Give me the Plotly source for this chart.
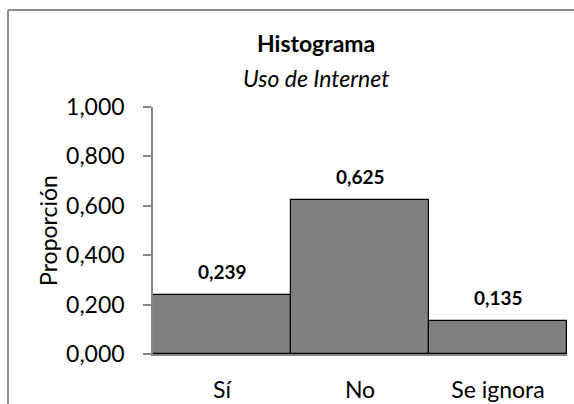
import plotly.graph_objects as go

# Proporción de respuestas por categoría
categorias = ["Sí", "No", "Se ignora"]
proporciones = [0.239, 0.625, 0.135]
etiquetas = ["0,239", "0,625", "0,135"]
ticks_y = [0.0, 0.2, 0.4, 0.6, 0.8, 1.0]

W, H = 574, 404
ML, MR, MT, MB = 153, 7, 107, 50
FONT = "Lato, Open Sans, sans-serif"


def px_x(x):
    return (x - ML) / (W - ML - MR)


def px_y(y):
    return (H - MB - y) / (H - MT - MB)


fig = go.Figure(
    go.Bar(
        x=categorias,
        y=proporciones,
        marker=dict(color="#808080", line=dict(color="#000000", width=1.2)),
        width=1.0,
        hoverinfo="skip",
    )
)

# Etiquetas de valor sobre cada barra
for c, v, t in zip(categorias, proporciones, etiquetas):
    fig.add_annotation(
        x=c, y=v, text=f"<b>{t}</b>", showarrow=False,
        yanchor="bottom", yshift=10,
        font=dict(family=FONT, size=19, color="#000000"),
    )

# Título y subtítulo
fig.add_annotation(
    x=px_x(316), y=px_y(43), xref="paper", yref="paper",
    text="<b>Histograma</b>", showarrow=False,
    xanchor="center", yanchor="middle",
    font=dict(family=FONT, size=23, color="#000000"),
)
fig.add_annotation(
    x=px_x(316), y=px_y(78), xref="paper", yref="paper",
    text="<i>Uso de Internet</i>", showarrow=False,
    xanchor="center", yanchor="middle",
    font=dict(family=FONT, size=23, color="#000000"),
)

# Marco del gráfico (bordes izquierdo y superior)
marco = dict(type="line", xref="paper", yref="paper",
             line=dict(color="#8c8c8c", width=2), layer="below")
fig.add_shape(x0=px_x(8), x1=px_x(8), y0=px_y(H), y1=px_y(10), **marco)
fig.add_shape(x0=px_x(8), x1=px_x(W), y0=px_y(10), y1=px_y(10), **marco)

fig.update_layout(
    width=W, height=H,
    margin=dict(l=ML, r=MR, t=MT, b=MB, pad=0),
    paper_bgcolor="white", plot_bgcolor="white",
    separators=",.",
    bargap=0,
    showlegend=False,
    font=dict(family=FONT, size=23, color="#000000"),
)

fig.update_xaxes(
    showline=True, linecolor="#868686", linewidth=1.5,
    ticks="", showgrid=False, zeroline=False,
    tickfont=dict(family=FONT, size=23),
    ticklabelstandoff=15,
    range=[-0.5, 2.5],
    automargin=False,
)
fig.update_yaxes(
    range=[0, 1.0], tickvals=ticks_y, tickformat=".3f",
    showline=True, linecolor="#868686", linewidth=1.5,
    ticks="outside", ticklen=8, tickcolor="#868686", tickwidth=1.5,
    showgrid=False, zeroline=False,
    tickfont=dict(family=FONT, size=23),
    ticklabelstandoff=14,
    title=dict(text="Proporción", font=dict(family=FONT, size=23), standoff=2),
    automargin=False,
)

fig.write_html("out.html")
